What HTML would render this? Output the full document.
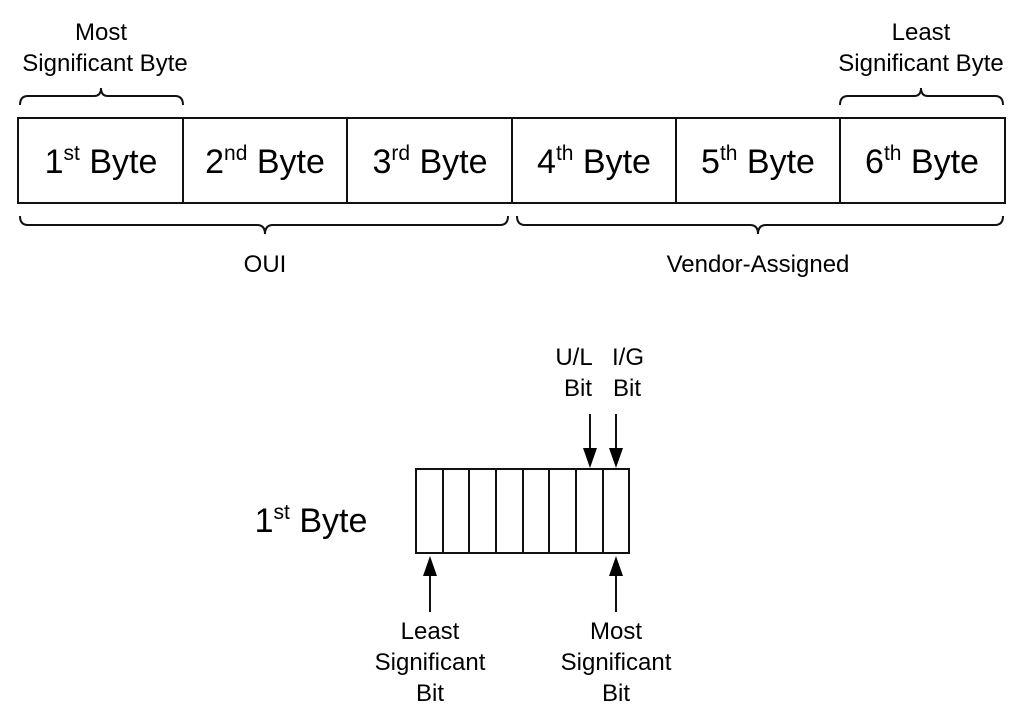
<!DOCTYPE html>
<html><head><meta charset="utf-8"><style>body{margin:0;background:#fff}svg{display:block;font-family:"Liberation Sans",Arial,sans-serif}</style></head>
<body>
<svg width="1024" height="727" viewBox="0 0 1024 727" xmlns="http://www.w3.org/2000/svg" style="font-family:'Liberation Sans',sans-serif" fill="#000">
<g fill="none" stroke="#111" stroke-width="2">
<rect x="18" y="118" width="987" height="85"/>
<line x1="183" y1="118" x2="183" y2="203"/>
<line x1="347" y1="118" x2="347" y2="203"/>
<line x1="512" y1="118" x2="512" y2="203"/>
<line x1="676" y1="118" x2="676" y2="203"/>
<line x1="840" y1="118" x2="840" y2="203"/>
<path d="M20,105 Q20,96 28,96 L94,96 Q101,96 101,88 Q101,96 108,96 L175,96 Q183,96 183,105"/>
<path d="M840,105 Q840,96 848,96 L914,96 Q921,96 921,88 Q921,96 928,96 L995,96 Q1003,96 1003,105"/>
<path d="M20,216 Q20,225 28,225 L257,225 Q265,225 265,234 Q265,225 273,225 L500,225 Q508,225 508,216"/>
<path d="M517,216 Q517,225 525,225 L750,225 Q758,225 758,234 Q758,225 766,225 L995,225 Q1003,225 1003,216"/>
<rect x="416" y="469" width="213" height="84"/>
<line x1="443" y1="469" x2="443" y2="553"/>
<line x1="469" y1="469" x2="469" y2="553"/>
<line x1="496" y1="469" x2="496" y2="553"/>
<line x1="523" y1="469" x2="523" y2="553"/>
<line x1="549" y1="469" x2="549" y2="553"/>
<line x1="576" y1="469" x2="576" y2="553"/>
<line x1="603" y1="469" x2="603" y2="553"/>
<line x1="590" y1="414" x2="590" y2="455"/>
<line x1="616" y1="414" x2="616" y2="455"/>
<line x1="430" y1="570" x2="430" y2="612"/>
<line x1="616" y1="570" x2="616" y2="612"/>
</g>
<path d="M583,448 L597,448 L590,468 Z"/>
<path d="M609,448 L623,448 L616,468 Z"/>
<path d="M423,576 L437,576 L430,556 Z"/>
<path d="M609,576 L623,576 L616,556 Z"/>
<g font-size="34" text-anchor="middle">
<text x="101" y="173">1<tspan font-size="21" dy="-13">st</tspan><tspan dy="13"> Byte</tspan></text>
<text x="265" y="173">2<tspan font-size="21" dy="-13">nd</tspan><tspan dy="13"> Byte</tspan></text>
<text x="430" y="173">3<tspan font-size="21" dy="-13">rd</tspan><tspan dy="13"> Byte</tspan></text>
<text x="594" y="173">4<tspan font-size="21" dy="-13">th</tspan><tspan dy="13"> Byte</tspan></text>
<text x="758" y="173">5<tspan font-size="21" dy="-13">th</tspan><tspan dy="13"> Byte</tspan></text>
<text x="922" y="173">6<tspan font-size="21" dy="-13">th</tspan><tspan dy="13"> Byte</tspan></text>
<text x="311" y="532">1<tspan font-size="21" dy="-13">st</tspan><tspan dy="13"> Byte</tspan></text>
</g>
<g font-size="24" text-anchor="middle">
<text x="101" y="40">Most</text>
<text x="105" y="71">Significant Byte</text>
<text x="921" y="40">Least</text>
<text x="921" y="71">Significant Byte</text>
<text x="265" y="272">OUI</text>
<text x="758" y="272">Vendor-Assigned</text>
<text x="574" y="365">U/L</text>
<text x="578" y="396">Bit</text>
<text x="628" y="365">I/G</text>
<text x="627" y="396">Bit</text>
<text x="430" y="639">Least</text>
<text x="430" y="670">Significant</text>
<text x="430" y="701">Bit</text>
<text x="616" y="639">Most</text>
<text x="616" y="670">Significant</text>
<text x="616" y="701">Bit</text>
</g>
</svg>
</body></html>
